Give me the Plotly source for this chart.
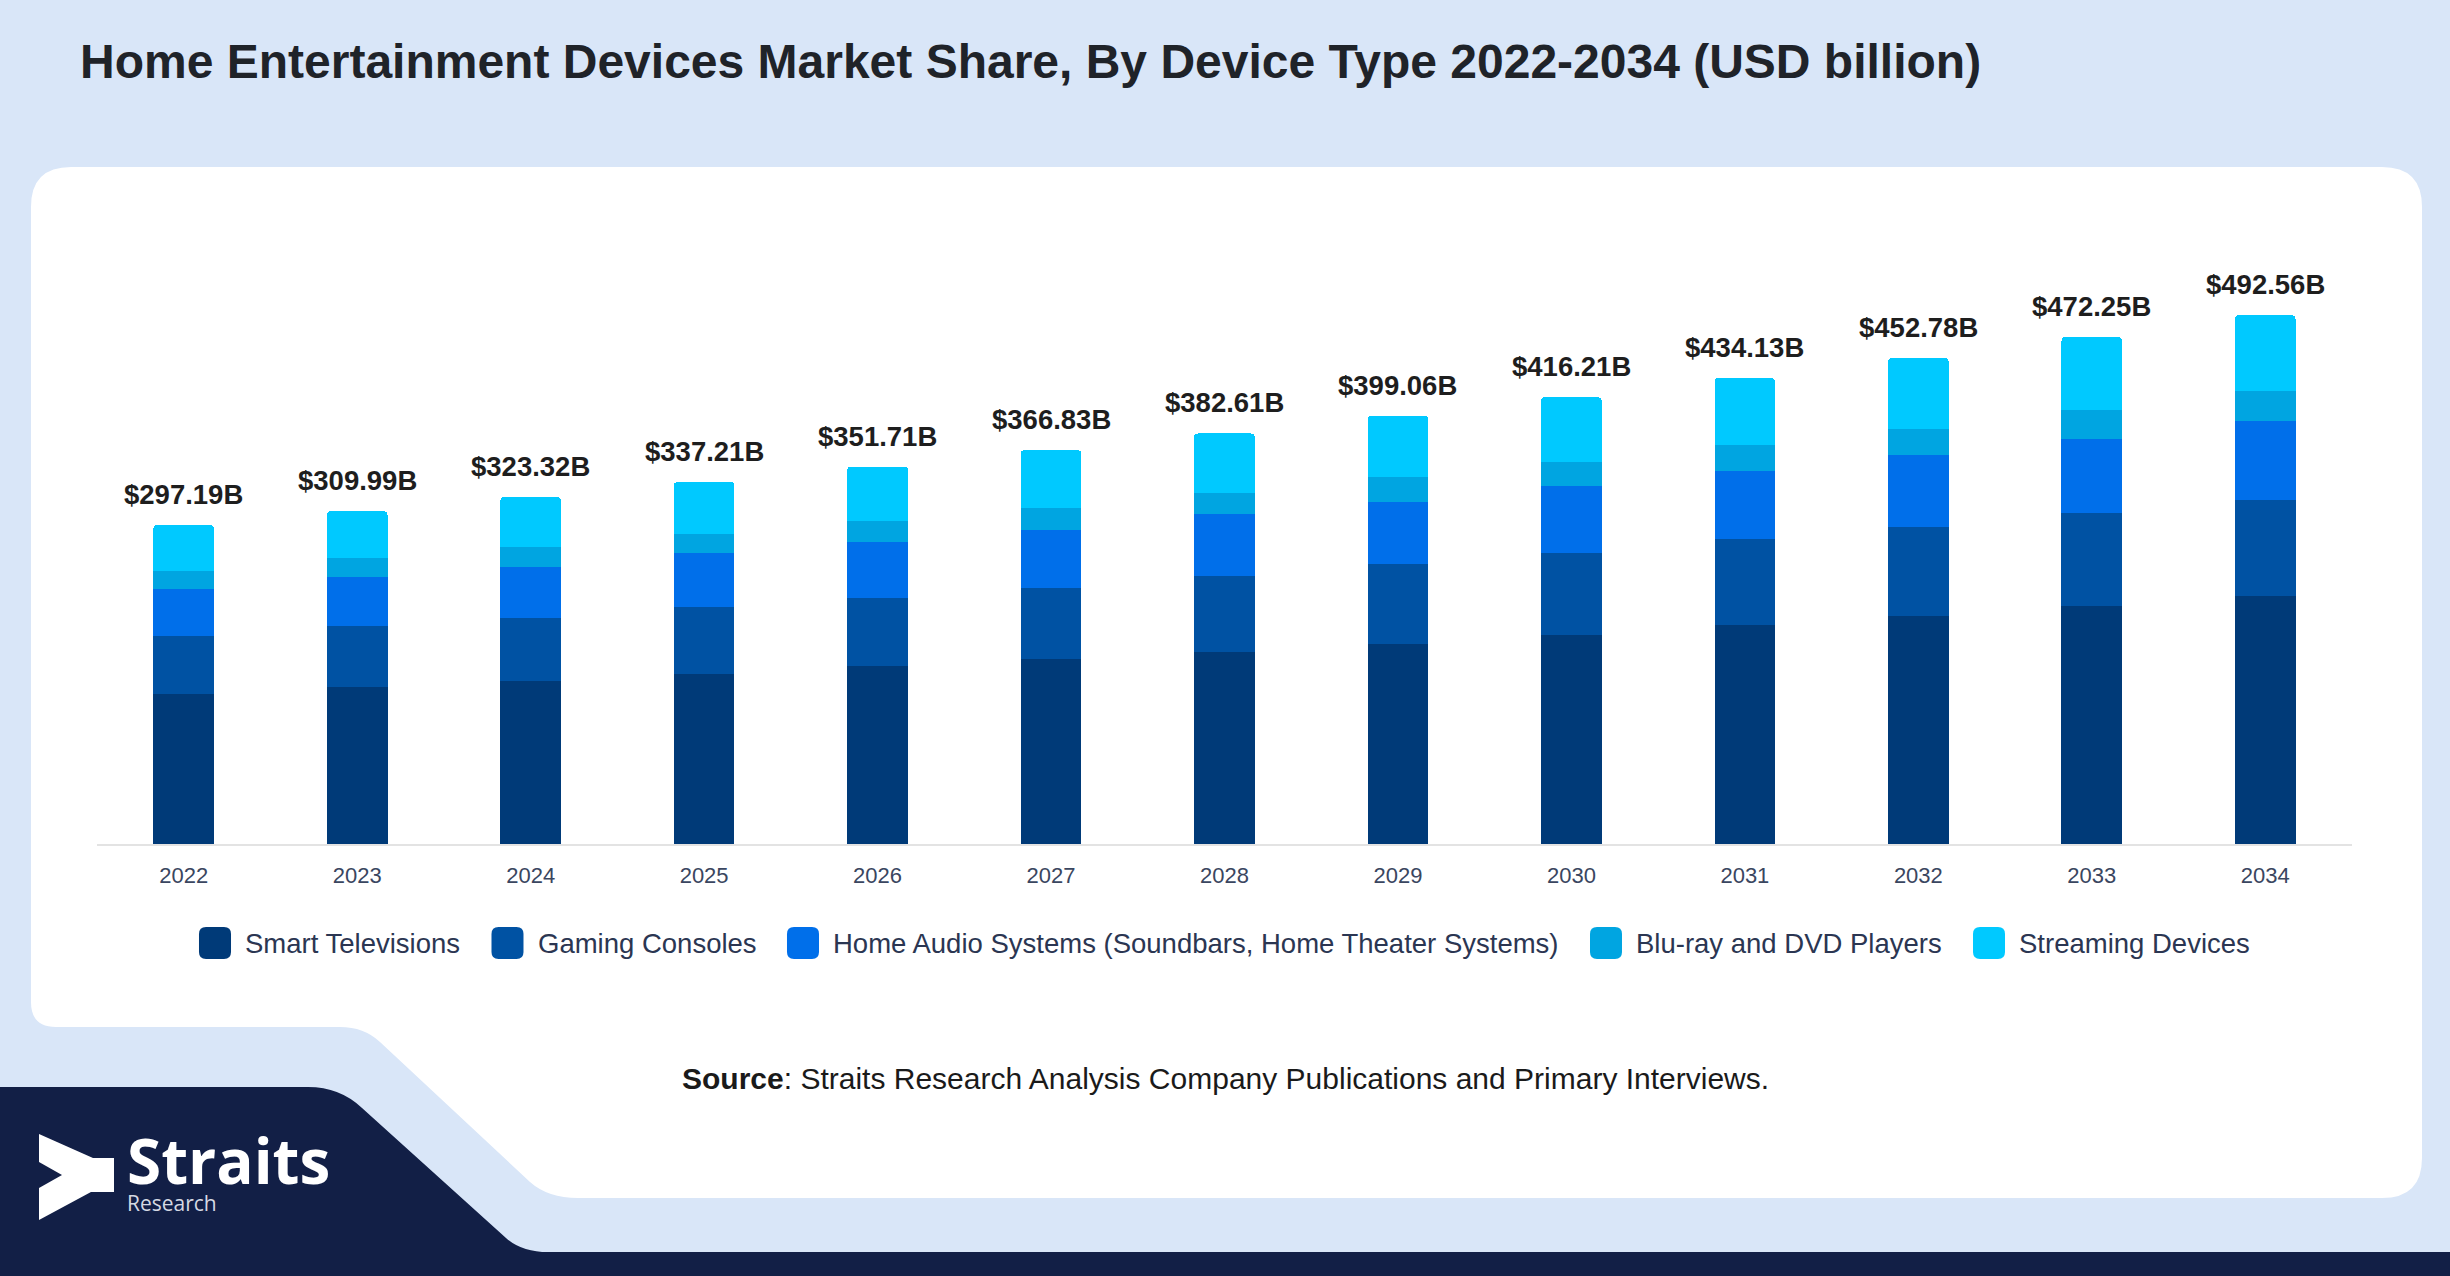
import plotly.graph_objects as go

# ---------------- data ----------------
years = ["2022", "2023", "2024", "2025", "2026", "2027", "2028",
         "2029", "2030", "2031", "2032", "2033", "2034"]
smart_tv = [139.6, 146.0, 151.9, 158.3, 165.4, 172.1, 179.3, 186.7, 194.8, 204.1, 212.1, 221.3, 230.9]
gaming = [54.5, 56.9, 59.1, 62.5, 64.1, 66.7, 70.5, 74.1, 76.5, 80.0, 83.0, 86.9, 90.0]
home_audio = [43.9, 45.6, 47.5, 49.9, 51.5, 54.1, 57.2, 58.1, 61.8, 63.1, 67.1, 69.3, 73.4]
bluray = [16.3, 17.6, 18.3, 18.0, 19.6, 19.9, 20.3, 22.6, 22.9, 24.8, 24.8, 26.9, 27.6]
streaming = [42.9, 43.9, 46.5, 48.6, 51.1, 54.1, 55.2, 57.5, 60.2, 62.1, 65.8, 67.9, 70.7]
totals = [297.19, 309.99, 323.32, 337.21, 351.71, 366.83, 382.61,
          399.06, 416.21, 434.13, 452.78, 472.25, 492.56]

series_names = ["Smart Televisions", "Gaming Consoles",
                "Home Audio Systems (Soundbars, Home Theater Systems)",
                "Blu-ray and DVD Players", "Streaming Devices"]
series_values = [smart_tv, gaming, home_audio, bluray, streaming]
series_colors = ["#003a78", "#0052a3", "#006fea", "#00a5e1", "#00c9ff"]

W, H = 2450, 1276
FONT = "Liberation Sans, Arial, sans-serif"


def fx(x):
    return x / W


def fy(y):
    return 1 - y / H


def path(cmds):
    out = []
    for c in cmds:
        letter, pts = c[0], c[1:]
        coords = []
        for i in range(0, len(pts), 2):
            coords.append(f"{fx(pts[i]):.5f},{fy(pts[i + 1]):.5f}")
        out.append(letter + " ".join(coords))
    return " ".join(out) + " Z"


fig = go.Figure()

for name, vals, col in zip(series_names, series_values, series_colors):
    fig.add_trace(go.Bar(
        x=years, y=vals, name=name,
        marker=dict(color=col, line=dict(width=0)),
        showlegend=False,
        hovertemplate="%{x}: %{y}<extra>" + name + "</extra>",
    ))

# total labels above bars (category axis: x is the category index)
for i, tot in enumerate(totals):
    fig.add_annotation(
        x=i, y=tot, xref="x", yref="y",
        text=f"${tot:.2f}B", showarrow=False,
        yanchor="bottom", yshift=13,
        font=dict(family=FONT, size=27.5, color="#1e1e1e", weight="bold"),
    )

shapes = []
# white card with notch at bottom-left
r = 40
card = path([
    ("M", 31 + r, 167), ("L", 2422 - r, 167), ("Q", 2422, 167, 2422, 167 + r),
    ("L", 2422, 1198 - r), ("Q", 2422, 1198, 2422 - r, 1198),
    ("L", 578, 1198), ("Q", 548, 1198, 530, 1182),
    ("L", 380, 1042), ("Q", 364, 1027, 340, 1027),
    ("L", 31 + 25, 1027), ("Q", 31, 1027, 31, 1027 - 25),
    ("L", 31, 167 + r), ("Q", 31, 167, 31 + r, 167),
])
shapes.append(dict(type="path", path=card, xref="paper", yref="paper",
                   fillcolor="#ffffff", line=dict(width=0), layer="below"))
# navy footer band
navy = path([
    ("M", 0, 1087), ("L", 308, 1087), ("Q", 340, 1087, 362, 1108),
    ("L", 506, 1238), ("Q", 522, 1252, 548, 1252),
    ("L", 2450, 1252), ("L", 2450, 1276), ("L", 0, 1276),
])
shapes.append(dict(type="path", path=navy, xref="paper", yref="paper",
                   fillcolor="#121f46", line=dict(width=0), layer="below"))
# logo chevron
logo = path([
    ("M", 39, 1134), ("L", 93, 1158), ("L", 114, 1158), ("L", 114, 1192),
    ("L", 91, 1192), ("L", 39, 1220), ("L", 39, 1188), ("L", 62, 1175),
    ("L", 39, 1162),
])
shapes.append(dict(type="path", path=logo, xref="paper", yref="paper",
                   fillcolor="#ffffff", line=dict(width=0), layer="above"))

# custom legend
leg_sq_x = [215, 507.5, 803, 1606, 1989]
leg_y = 943
half = 16
rr = 7
for cx, name, col in zip(leg_sq_x, series_names, series_colors):
    x0, x1, y0, y1 = cx - half, cx + half, leg_y - half, leg_y + half
    sq = path([
        ("M", x0 + rr, y0), ("L", x1 - rr, y0), ("Q", x1, y0, x1, y0 + rr),
        ("L", x1, y1 - rr), ("Q", x1, y1, x1 - rr, y1),
        ("L", x0 + rr, y1), ("Q", x0, y1, x0, y1 - rr),
        ("L", x0, y0 + rr), ("Q", x0, y0, x0 + rr, y0),
    ])
    shapes.append(dict(type="path", path=sq, xref="paper", yref="paper",
                       fillcolor=col, line=dict(width=0)))
    fig.add_annotation(x=fx(cx + half + 12), y=fy(leg_y), xref="paper", yref="paper",
                       xanchor="left", yanchor="middle", showarrow=False,
                       text=name, font=dict(family=FONT, size=27.5, color="#2b3652"))

# title
fig.add_annotation(x=fx(78), y=fy(62), xref="paper", yref="paper",
                   xanchor="left", yanchor="middle", showarrow=False,
                   text="Home Entertainment Devices Market Share, By Device Type 2022-2034 (USD billion)",
                   font=dict(family=FONT, size=48, color="#1f2329", weight="bold"))
# source
fig.add_annotation(x=fx(1225), y=fy(1078), xref="paper", yref="paper",
                   xanchor="center", yanchor="middle", showarrow=False,
                   text="<b>Source</b>: Straits Research Analysis Company Publications and Primary Interviews.",
                   font=dict(family=FONT, size=30, color="#1a1a1a"))
# logo text (single block: big "Straits" over small "Research")
fig.add_annotation(x=fx(126), y=fy(1218), xref="paper", yref="paper",
                   xanchor="left", yanchor="bottom", showarrow=False, align="left",
                   text=("<span style='font-size:62px;font-weight:bold;color:#ffffff'>Straits</span>"
                         "<br><span style='color:#d5d9e3'>Research</span>"),
                   borderpad=0,
                   font=dict(family="Open Sans, sans-serif", size=21, color="#d5d9e3"))

fig.update_layout(
    width=W, height=H,
    margin=dict(l=0, r=0, t=0, b=0, pad=0),
    paper_bgcolor="#d9e6f8",
    plot_bgcolor="rgba(0,0,0,0)",
    barmode="stack",
    bargap=0.65,
    barcornerradius=4,
    shapes=shapes,
    xaxis=dict(type="category", categoryorder="array", categoryarray=years,
               range=[-0.5, len(years) - 0.5], autorange=False,
               domain=[fx(97), fx(2352)], showline=True,
               linecolor="#e3e3e3", linewidth=2, automargin=False,
               showgrid=False, ticks="", ticklabelstandoff=11,
               tickfont=dict(family=FONT, size=22, color="#3a4660"),
               fixedrange=True),
    yaxis=dict(domain=[fy(844), fy(200)], range=[0, 600], autorange=False, visible=False,
               showgrid=False, zeroline=False, fixedrange=True, automargin=False),
    showlegend=False,
)

fig.write_html("out.html", config={"displayModeBar": False},
               post_script="document.body.style.margin='0';document.body.style.overflow='hidden';")
